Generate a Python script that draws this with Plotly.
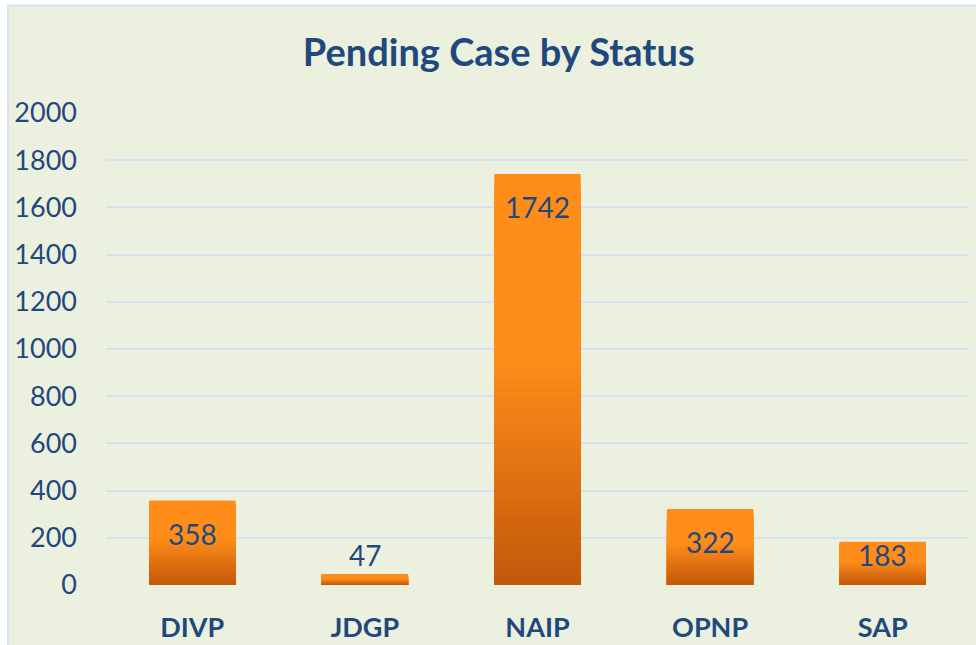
import plotly.graph_objects as go

categories = ["DIVP", "JDGP", "NAIP", "OPNP", "SAP"]
values = [358, 47, 1742, 322, 183]
y_ticks = [0, 200, 400, 600, 800, 1000, 1200, 1400, 1600, 1800, 2000]

TOP = (255, 141, 26)
BOTTOM = (194, 88, 10)
FLAT_FROM = 0.55
N = 48

# label placement style (data units): offset of label centre below bar top,
# and the lowest label centre allowed
LABEL_DROP = 140
LABEL_MIN = 127

def grad_color(f):
    if f >= FLAT_FROM:
        c = TOP
    else:
        t = f / FLAT_FROM
        c = tuple(round(BOTTOM[i] + (TOP[i] - BOTTOM[i]) * t) for i in range(3))
    return "rgb(%d,%d,%d)" % c

fig = go.Figure()
for k in range(N):
    frac = (N - k) / N
    fig.add_trace(go.Bar(
        x=categories,
        y=[v * frac for v in values],
        marker=dict(color=grad_color(frac - 0.5 / N), line=dict(width=0)),
        hoverinfo="skip" if k else "x+y",
        showlegend=False,
    ))

DARK = "#1F497D"
for c, v in zip(categories, values):
    fig.add_annotation(
        x=c, y=max(v - LABEL_DROP, LABEL_MIN), text=str(v), showarrow=False,
        yanchor="middle",
        font=dict(family="Lato", size=28, color=DARK),
    )

fig.add_shape(
    type="rect", xref="paper", yref="paper",
    x0=-0.1136, x1=1.2, y0=-0.5, y1=1.228,
    fillcolor="#ECF0DF", line=dict(color="#D6E2F2", width=2), layer="below",
)

fig.update_layout(
    width=976, height=645,
    margin=dict(l=106, r=7, t=113, b=60),
    paper_bgcolor="white",
    plot_bgcolor="rgba(0,0,0,0)",
    barmode="overlay",
    bargap=0.5,
    title=dict(text="<b>Pending Case by Status</b>", x=0.511, xanchor="center",
               y=0.918, yanchor="middle", yref="container",
               font=dict(family="Lato", size=38, color=DARK)),
    font=dict(family="Lato", color=DARK),
    xaxis=dict(tickfont=dict(size=27, color=DARK, family="Lato"),
               ticklabelstandoff=24, showgrid=False, showline=False,
               automargin=False,
               tickprefix="<b>", ticksuffix="</b>", fixedrange=True),
    yaxis=dict(range=[0, 2000], tickvals=y_ticks,
               tickfont=dict(size=27, color=DARK, family="Lato"),
               ticklabelstandoff=28, showgrid=True, gridcolor="#D7E2EF",
               automargin=False,
               gridwidth=2, zeroline=False, showline=False, fixedrange=True),
)

fig.write_html("out.html", config={"displayModeBar": False},
               post_script="document.body.style.margin='0';document.body.style.overflow='hidden';")
